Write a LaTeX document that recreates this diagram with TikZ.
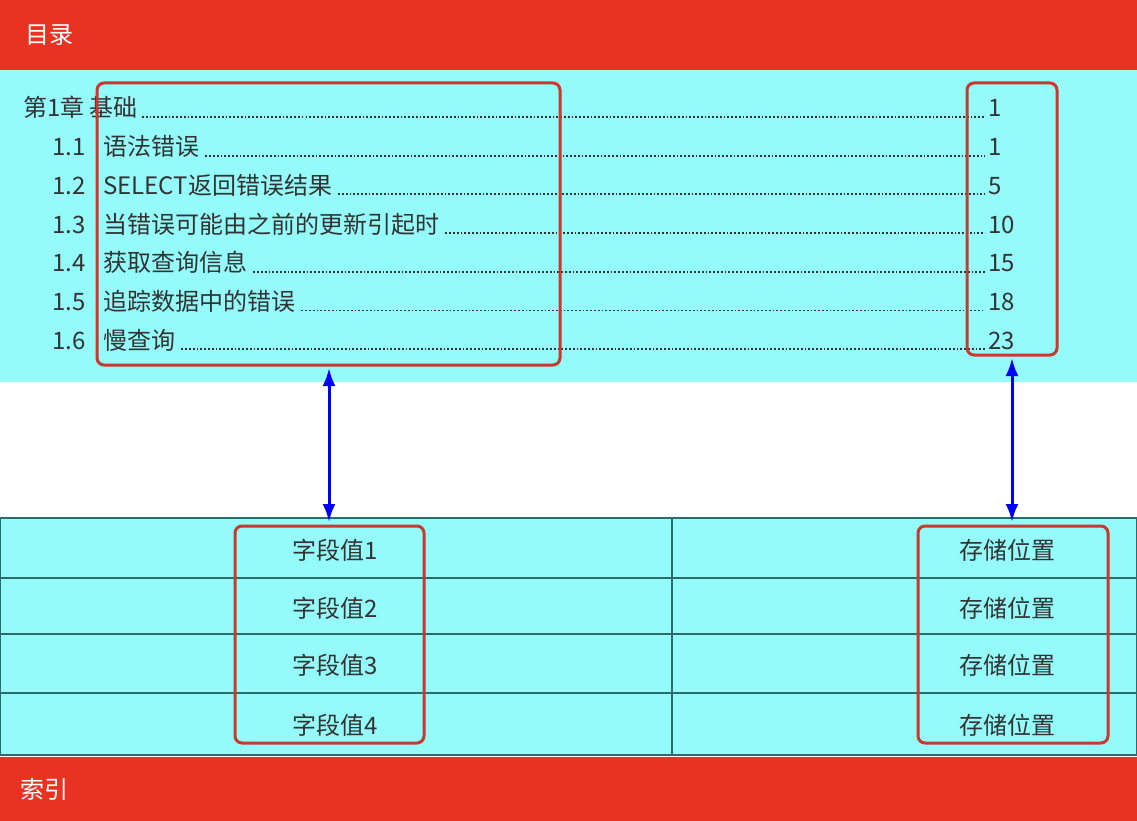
\documentclass[tikz,border=0pt]{standalone}
\usepackage{fontspec}
\setmainfont{Noto Sans CJK SC}
\usetikzlibrary{arrows.meta}
\definecolor{barred}{HTML}{E83323}
\definecolor{cyanbg}{HTML}{94FAFA}
\definecolor{tealline}{HTML}{2A6B6B}
\definecolor{boxred}{HTML}{C8392E}
\definecolor{txt}{HTML}{333333}
\begin{document}
\begin{tikzpicture}[x=1pt,y=-1pt,
  every node/.style={inner sep=0pt, text=txt, font=\fontsize{24}{28}\selectfont},
  hilite/.style={draw=boxred, line width=3pt, rounded corners=7pt},
  link/.style={blue, line width=3pt, {Latex[length=18pt,width=13pt]}-{Latex[length=18pt,width=13pt]}},
  leader/.style={dotted, line width=1.8pt, txt}
  ]
  \useasboundingbox (0,0) rectangle (1137,821);
  % header and footer
  \fill[barred] (0,0) rectangle (1137,70);
  \node[anchor=west, text=white] (toc) at (25,35) {目录};
  \fill[barred] (0,757) rectangle (1137,821);
  \node[anchor=west, text=white] (idx) at (20,789) {索引};
  % table of contents
  \fill[cyanbg] (0,70) rectangle (1137,382);
  \node[anchor=base west] (ch) at (23,117) {第1章 基础};
  \draw[leader] ([xshift=4pt]ch.base east) -- (985,117);
  \node[anchor=base west] (p0) at (988,117) {1};
  \foreach \i/\t/\p [count=\k] in {1.1/语法错误/1, 1.2/SELECT返回错误结果/5,
      1.3/当错误可能由之前的更新引起时/10, 1.4/获取查询信息/15,
      1.5/追踪数据中的错误/18, 1.6/慢查询/23} {
    \pgfmathsetmacro\yb{117+38.7*\k}
    \node[anchor=base west] (n\k) at (52,\yb) {\i};
    \node[anchor=base west] (t\k) at (103,\yb) {\t};
    \draw[leader] ([xshift=6pt]t\k.base east) -- (985,\yb);
    \node[anchor=base west] (p\k) at (988,\yb) {\p};
  }
  \draw[hilite] (97,83) rectangle (560,365);
  \draw[hilite] (967,83) rectangle (1057,355);
  % index table
  \draw[tealline, line width=2.5pt, fill=cyanbg] (0,518) rectangle (1137,755);
  \foreach \y in {578,634,693} \draw[tealline, line width=2.5pt] (0,\y) -- (1137,\y);
  \draw[tealline, line width=2.5pt] (672,518) -- (672,755);
  \foreach \y [count=\k] in {550,608,665,725} {
    \node (f\k) at (335,\y) {字段值\k};
    \node (s\k) at (1007,\y) {存储位置};
  }
  \draw[hilite] (235,526) rectangle (424,743);
  \draw[hilite] (918,526) rectangle (1108,743);
  % links
  \coordinate (a1) at (329,368);
  \coordinate (b1) at (329,522);
  \coordinate (a2) at (1012,358);
  \coordinate (b2) at (1012,522);
  \draw[link] (a1) -- (b1);
  \draw[link] (a2) -- (b2);
\end{tikzpicture}
\end{document}
